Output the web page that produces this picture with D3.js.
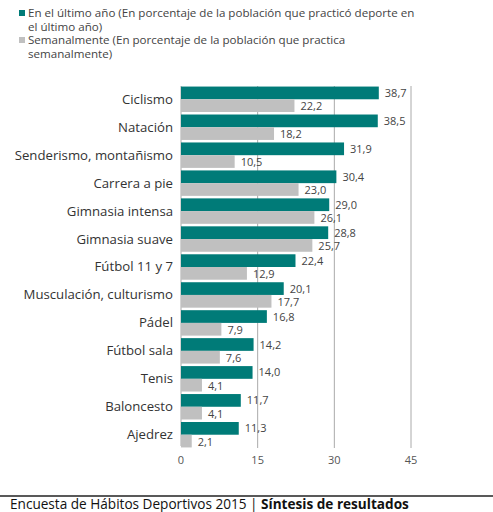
<!DOCTYPE html>
<html>
<head>
<meta charset="utf-8">
<script src="https://cdn.jsdelivr.net/npm/d3@7"></script>
<style>
body{margin:0;background:#fff;}
text{font-family:"Open Sans",sans-serif;}
</style>
</head>
<body>
<script>
// data
var categories = ["Ciclismo","Natación","Senderismo, montañismo","Carrera a pie","Gimnasia intensa","Gimnasia suave","Fútbol 11 y 7","Musculación, culturismo","Pádel","Fútbol sala","Tenis","Baloncesto","Ajedrez"];
var ultimoAno = [38.7,38.5,31.9,30.4,29.0,28.8,22.4,20.1,16.8,14.2,14.0,11.7,11.3];
var semanal = [22.2,18.2,10.5,23.0,26.1,25.7,12.9,17.7,7.9,7.6,4.1,4.1,2.1];
var ticks = [0,15,30,45];
var legendLabels = [
  ["En el último año (En porcentaje de la población que practicó deporte en","el último año)"],
  ["Semanalmente (En porcentaje de la población que practica","semanalmente)"]
];
var colors = ["#007b78","#c0c0c0"];

var width = 493, height = 512;
var svg = d3.select("body").append("svg")
    .attr("width", width)
    .attr("height", height);

var x = d3.scaleLinear().domain([0,45]).range([181,411]);
var y = d3.scaleBand().domain(categories).range([86,448]).paddingInner(0.09).paddingOuter(0.02);

var fmt = function(v){ return d3.format(".1f")(v).replace(".", ","); };

// legend
var leg = svg.append("g");
legendLabels.forEach(function(lines, i){
  var y0 = 17 + i*27;
  leg.append("rect").attr("x",19).attr("y",y0-7).attr("width",6).attr("height",6).attr("fill",colors[i]);
  lines.forEach(function(t, j){
    leg.append("text").attr("x",28).attr("y",y0+j*13.5)
      .attr("font-size","11.6px").attr("fill","#444").text(t);
  });
});

// grid
svg.append("g").selectAll("line")
  .data(ticks)
  .enter().append("line")
    .attr("x1", function(d){ return x(d); })
    .attr("x2", function(d){ return x(d); })
    .attr("y1", 86)
    .attr("y2", function(d){ return d==0 ? 446 : 448; })
    .attr("stroke", "#aaa")
    .attr("stroke-width", 1);

svg.append("g").selectAll("text")
  .data(ticks)
  .enter().append("text")
    .attr("x", function(d){ return x(d); })
    .attr("y", 464)
    .attr("text-anchor","middle")
    .attr("font-size","11px")
    .attr("fill","#555")
    .text(function(d){ return d; });

var bh = y.bandwidth()/2;

var rows = svg.append("g").selectAll("g")
  .data(categories)
  .enter().append("g")
    .attr("transform", function(d){ return "translate(0," + y(d) + ")"; });

rows.append("text")
  .attr("x", 173)
  .attr("y", bh + 4.5)
  .attr("text-anchor","end")
  .attr("font-size","13.2px")
  .attr("fill","#333")
  .text(function(d){ return d; });

rows.append("rect")
  .attr("x", x(0))
  .attr("y", 0)
  .attr("width", function(d,i){ return x(ultimoAno[i]) - x(0); })
  .attr("height", bh)
  .attr("fill", colors[0]);

rows.append("rect")
  .attr("x", x(0))
  .attr("y", bh)
  .attr("width", function(d,i){ return x(semanal[i]) - x(0); })
  .attr("height", bh)
  .attr("fill", colors[1]);

rows.append("text")
  .attr("x", function(d,i){ return x(ultimoAno[i]) + 6; })
  .attr("y", bh/2 + 4)
  .attr("font-size","11px")
  .attr("fill","#444")
  .text(function(d,i){ return fmt(ultimoAno[i]); });

rows.append("text")
  .attr("x", function(d,i){ return x(semanal[i]) + 6; })
  .attr("y", 1.5*bh + 4.5)
  .attr("font-size","11px")
  .attr("fill","#444")
  .text(function(d,i){ return fmt(semanal[i]); });

// footer
svg.append("line").attr("x1",0).attr("x2",493).attr("y1",496).attr("y2",496)
  .attr("stroke","#222").attr("stroke-width",1.3);
var ft = svg.append("text").attr("x",10).attr("y",509).attr("font-size","13.6px").attr("fill","#111");
ft.append("tspan").text("Encuesta de Hábitos Deportivos 2015 | ");
ft.append("tspan").attr("font-weight","bold").text("Síntesis de resultados");
</script>
</body>
</html>
